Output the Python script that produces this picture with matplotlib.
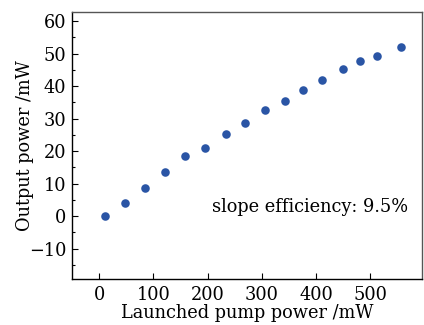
import matplotlib
matplotlib.use("Agg")
import matplotlib.pyplot as plt
from matplotlib.ticker import MultipleLocator

# launched pump power (mW) vs output power (mW)
pump = [10, 47, 84, 121, 159, 196, 233, 268, 305, 342, 375, 410, 449, 481, 512, 556]
output = [0.0, 4.0, 8.8, 13.7, 18.4, 20.9, 25.4, 28.8, 32.7, 35.4, 38.8, 41.8, 45.3, 47.7, 49.4, 52.0]
yticks = list(range(-10, 61, 10))

plt.rcParams['font.family'] = ['DejaVu Serif']

fig = plt.figure(figsize=(4.24, 3.25), dpi=100)
ax = fig.add_axes([72/424, 1 - 279/325, 350/424, 267/325])

ax.scatter(pump, output, s=38, color='#2a55a5', zorder=3, linewidths=0)

ax.set_xlim(-50, 595)
ax.set_ylim(-19.3, 62.8)
ax.xaxis.set_major_locator(MultipleLocator(100))
ax.yaxis.set_minor_locator(MultipleLocator(5))
ax.set_yticks(yticks)
ax.set_yticklabels([str(v).replace('-', '\u2212') for v in yticks])
ax.tick_params(direction='in', labelsize=12.8, length=4, width=0.8)
ax.tick_params(which='minor', direction='in', length=2.5, width=0.8)
ax.tick_params(axis='x', pad=5)
ax.tick_params(axis='y', pad=4)

for s in ax.spines.values():
    s.set_linewidth(1.0)
ax.spines['right'].set_color('#555555')
ax.spines['top'].set_color('#555555')

ax.set_xlabel('Launched pump power /mW', fontsize=12.8, labelpad=0)
ax.set_ylabel('Output power /mW', fontsize=12.8)
ax.yaxis.set_label_coords(-0.108, 0.5)
ax.text(0.40, 0.27, 'slope efficiency: 9.5%', transform=ax.transAxes,
        fontsize=12.8, va='center', ha='left')

fig.savefig('out.png', dpi=100)
